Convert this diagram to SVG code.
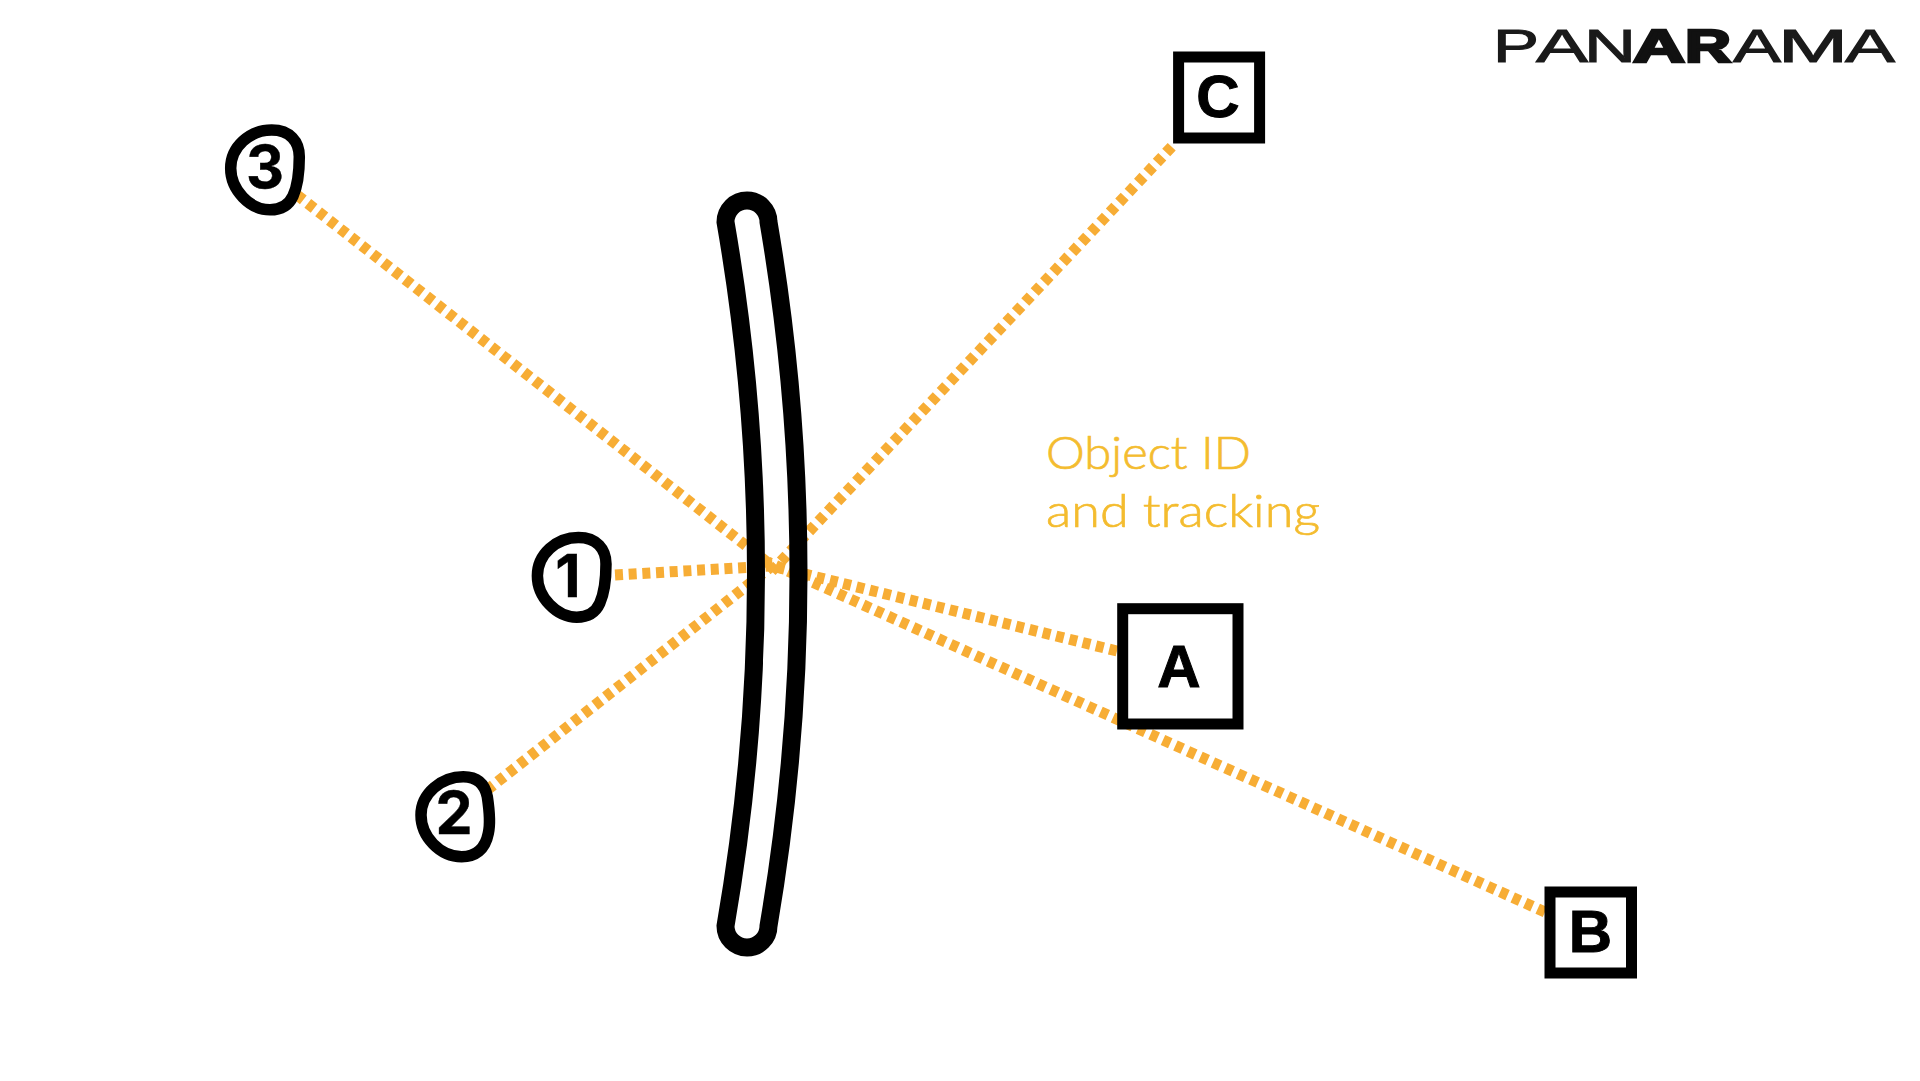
<svg xmlns="http://www.w3.org/2000/svg" width="1920" height="1081" viewBox="0 0 1920 1081">
<style>
.bg{fill:#fff}
.link{fill:none;stroke:#F7AD35;stroke-width:11;stroke-dasharray:8 5.7}
.lens{fill:none;stroke:#000;stroke-width:18}
.blob{fill:#fff;stroke:#000;stroke-width:11.5}
.box{fill:#fff;stroke:#000;stroke-width:11}
.lab{font-family:"Liberation Sans",Arial,sans-serif;font-weight:700;font-size:60px;fill:#000;stroke:#000;stroke-width:1;text-anchor:middle}
.num{font-family:Inter,"Liberation Sans",sans-serif;font-size:59px;stroke-width:.4}
.cap{font-family:Lato,"Liberation Sans",sans-serif;font-weight:300;font-size:46px;fill:#F4BC2F;stroke:#F4BC2F;stroke-width:.7}
.logo{font-family:"Liberation Sans",Arial,sans-serif;font-size:46px;fill:#1a1a1a;stroke:#1a1a1a;stroke-width:1}
.logo .b{font-weight:700;fill:#111;stroke:#111;stroke-width:2.6}
</style>
<defs>
<path id="blobA" class="blob" d="M20.7 58.3C20.7 36.7 40 20 61.7 20C80 20 89.3 31.7 89.3 46.7C89.3 63.3 88 75 83 86C78 97 69 99.8 60 99.8C40 99.8 20.7 80 20.7 58.3Z"/>
</defs>
<rect class="bg" width="1920" height="1081"/>
<g id="connectors">
<path class="link" d="M297 195L772 566"/>
<path class="link" d="M615 575L772 566"/>
<path class="link" d="M487 790L772 566"/>
<path class="link" d="M1171.7 146.7L768 575"/>
<path class="link" d="M1117 651L768 565"/>
<path class="link" d="M1545 912L768 562"/>
</g>
<g id="lens">
<path class="lens" d="M725.5 222Q786.5 574 725.5 926A21.5 21.5 0 0 0 768.5 926Q828.5 574 768.5 222A21.5 21.5 0 0 0 725.5 222Z"/>
</g>
<g id="node-3"><use href="#blobA" transform="translate(210 110)"/><text class="lab num" x="265" y="188">3</text></g>
<g id="node-1"><use href="#blobA" transform="translate(516.7 517.4)"/><text class="lab num" x="568" y="597">1</text></g>
<g id="node-2"><path class="blob" d="M421 815C421 793.3 441.7 776.7 463.3 776.7C478.3 776.7 485 785 487.3 796.7C489.3 810 490.7 823.3 488.3 833.3C485 850 475 856.7 461.7 856.7C440 856.7 421 836.7 421 815Z"/><text class="lab num" x="454" y="834">2</text></g>
<g id="node-A"><rect class="box" x="1122.7" y="608.7" width="115.3" height="115.3"/><text class="lab" x="1179" y="687">A</text></g>
<g id="node-B"><rect class="box" x="1550" y="892" width="81.5" height="81"/><text class="lab" x="1590.5" y="952">B</text></g>
<g id="node-C"><rect class="box" x="1178.6" y="57" width="81" height="81"/><text class="lab" x="1218" y="116.5">C</text></g>
<text id="caption" class="cap"><tspan x="1046" y="469" textLength="205" lengthAdjust="spacingAndGlyphs">Object ID</tspan><tspan x="1046" y="527" textLength="274" lengthAdjust="spacingAndGlyphs">and tracking</tspan></text>
<text id="logo" class="logo" y="62"><tspan x="1493" textLength="46" lengthAdjust="spacingAndGlyphs">P</tspan><tspan x="1536" textLength="52" lengthAdjust="spacingAndGlyphs">A</tspan><tspan x="1584" textLength="52" lengthAdjust="spacingAndGlyphs">N</tspan><tspan class="b" x="1633" textLength="52" lengthAdjust="spacingAndGlyphs">A</tspan><tspan class="b" x="1685" textLength="46" lengthAdjust="spacingAndGlyphs">R</tspan><tspan x="1733" textLength="48" lengthAdjust="spacingAndGlyphs">A</tspan><tspan x="1778" textLength="70" lengthAdjust="spacingAndGlyphs">M</tspan><tspan x="1845" textLength="50" lengthAdjust="spacingAndGlyphs">A</tspan></text>
</svg>
